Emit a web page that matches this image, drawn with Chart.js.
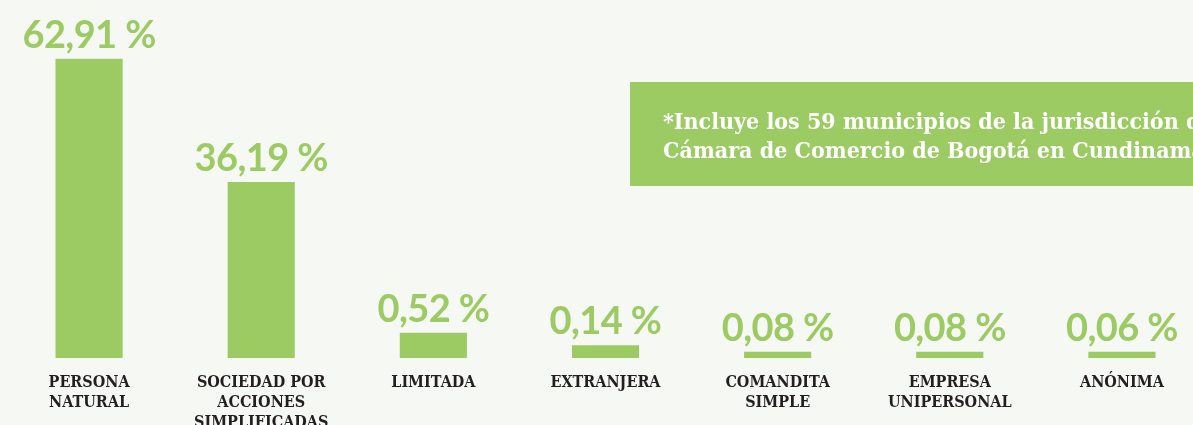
<!DOCTYPE html>
<html>
<head>
<meta charset="utf-8">
<script src="https://cdn.jsdelivr.net/npm/chart.js@4"></script>
<style>
  html, body { margin: 0; padding: 0; background: #F6F8F3; overflow: hidden; }
  #wrap { width: 1208px; height: 425px; }
</style>
</head>
<body>
<div id="wrap"><canvas id="chart" width="1208" height="425"></canvas></div>
<script>
/* global document, Chart */

// Categories (multi-line axis labels)
const categories = [
  ["PERSONA", "NATURAL"],
  ["SOCIEDAD POR", "ACCIONES", "SIMPLIFICADAS"],
  ["LIMITADA"],
  ["EXTRANJERA"],
  ["COMANDITA", "SIMPLE"],
  ["EMPRESA", "UNIPERSONAL"],
  ["ANÓNIMA"]
];

// Percentages printed above each bar
const shares = [62.91, 36.19, 0.52, 0.14, 0.08, 0.08, 0.06];

// Bar lengths as drawn in the picture (same % units, small ones exaggerated)
const barHeights = [62.91, 37.0, 5.3, 2.7, 1.3, 1.3, 1.3];

// Note in the green box
const noteLines = [
  "*Incluye los 59 municipios de la jurisdicción de la",
  "Cámara de Comercio de Bogotá en Cundinamarca"
];

// Colors
const green = "#9BCB62";
const dark = "#231F20";
const white = "#FFFFFF";

const slab = '"DejaVu Serif Condensed", "DejaVu Serif", serif';

const fmt = v => v.toFixed(2).replace(".", ",") + " %";

// Value labels above bars
const valueLabels = {
  id: "valueLabels",
  afterDatasetsDraw(chart) {
    const c = chart.ctx;
    const meta = chart.getDatasetMeta(0);
    c.save();
    c.fillStyle = green;
    c.font = 'bold 38px Lato, sans-serif';
    c.letterSpacing = "-0.6px";
    c.textAlign = "center";
    c.textBaseline = "alphabetic";
    meta.data.forEach((bar, i) => {
      c.fillText(fmt(shares[i]), bar.x, bar.y - 11);
    });
    c.restore();
  }
};

// Green note box on the right
const noteBox = {
  id: "noteBox",
  afterDraw(chart) {
    const c = chart.ctx;
    c.save();
    c.fillStyle = green;
    c.fillRect(630, 82, 600, 104);
    c.fillStyle = white;
    c.font = "bold 23px " + slab;
    c.textAlign = "left";
    c.textBaseline = "alphabetic";
    noteLines.forEach((line, i) => c.fillText(line, 663, 129 + i * 29));
    c.restore();
  }
};

new Chart(document.getElementById("chart"), {
  type: "bar",
  data: {
    labels: categories,
    datasets: [{
      data: barHeights,
      backgroundColor: green,
      borderWidth: 0,
      barPercentage: 0.39,
      categoryPercentage: 1
    }]
  },
  options: {
    responsive: false,
    animation: false,
    layout: { padding: { top: 25, left: 3, right: 0, bottom: 0 } },
    plugins: { legend: { display: false }, tooltip: { enabled: false } },
    scales: {
      x: {
        grid: { display: false },
        border: { display: false },
        afterFit: scale => { scale.height = 67; },
        ticks: {
          autoSkip: false,
          maxRotation: 0,
          padding: 7,
          color: dark,
          font: { family: slab, weight: "bold", size: 16, lineHeight: 1.25 }
        }
      },
      y: {
        display: false,
        min: 0,
        max: 70
      }
    }
  },
  plugins: [valueLabels, noteBox]
});
</script>
</body>
</html>
